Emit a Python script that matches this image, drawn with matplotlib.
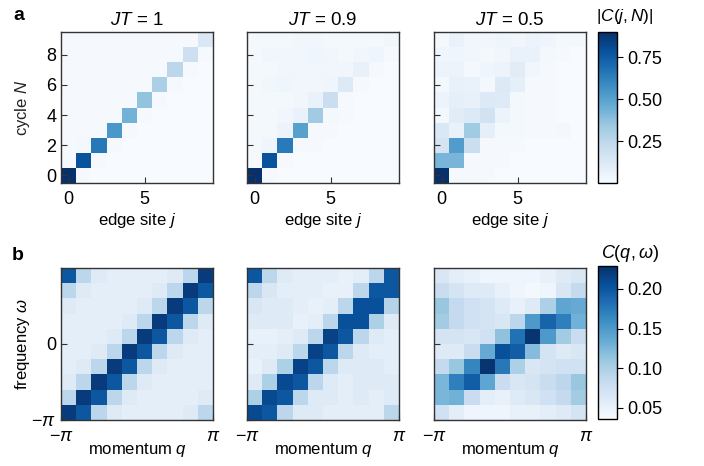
import numpy as np
import matplotlib
matplotlib.use("Agg")
import matplotlib.pyplot as plt

plt.rcParams['font.family'] = ['Liberation Sans', 'DejaVu Sans']
plt.rcParams['mathtext.fontset'] = 'custom'
plt.rcParams['mathtext.rm'] = 'Liberation Sans'
plt.rcParams['mathtext.it'] = 'Liberation Sans:italic'
plt.rcParams['mathtext.bf'] = 'Liberation Sans:bold'

# |C(j,N)| : rows are cycle N = 0..9, columns edge site j = 0..9
edge_jt1 = [
    [0.90, 0.01, 0.00, 0.00, 0.00, 0.00, 0.00, 0.00, 0.00, 0.00],
    [0.01, 0.78, 0.01, 0.00, 0.00, 0.00, 0.00, 0.00, 0.00, 0.00],
    [0.01, 0.02, 0.65, 0.01, 0.00, 0.00, 0.00, 0.00, 0.00, 0.00],
    [0.01, 0.01, 0.01, 0.54, 0.01, 0.00, 0.00, 0.00, 0.00, 0.00],
    [0.01, 0.01, 0.01, 0.01, 0.43, 0.01, 0.00, 0.00, 0.00, 0.00],
    [0.01, 0.01, 0.01, 0.01, 0.01, 0.36, 0.01, 0.00, 0.00, 0.00],
    [0.01, 0.01, 0.01, 0.01, 0.01, 0.01, 0.30, 0.01, 0.00, 0.00],
    [0.01, 0.01, 0.01, 0.01, 0.01, 0.01, 0.01, 0.25, 0.01, 0.00],
    [0.01, 0.01, 0.01, 0.01, 0.01, 0.01, 0.01, 0.01, 0.19, 0.01],
    [0.01, 0.01, 0.01, 0.01, 0.01, 0.01, 0.01, 0.01, 0.01, 0.13],
]
edge_jt09 = [
    [0.90, 0.01, 0.00, 0.00, 0.00, 0.00, 0.00, 0.00, 0.00, 0.00],
    [0.01, 0.78, 0.01, 0.00, 0.00, 0.00, 0.00, 0.00, 0.00, 0.00],
    [0.02, 0.04, 0.64, 0.01, 0.01, 0.00, 0.00, 0.00, 0.00, 0.00],
    [0.02, 0.02, 0.05, 0.50, 0.01, 0.01, 0.00, 0.00, 0.00, 0.00],
    [0.02, 0.02, 0.03, 0.06, 0.33, 0.02, 0.01, 0.00, 0.00, 0.00],
    [0.02, 0.02, 0.02, 0.03, 0.06, 0.20, 0.01, 0.00, 0.00, 0.00],
    [0.02, 0.03, 0.04, 0.03, 0.03, 0.04, 0.12, 0.01, 0.00, 0.00],
    [0.02, 0.02, 0.03, 0.03, 0.03, 0.03, 0.03, 0.07, 0.01, 0.00],
    [0.02, 0.03, 0.03, 0.03, 0.04, 0.03, 0.02, 0.03, 0.04, 0.01],
    [0.02, 0.02, 0.02, 0.03, 0.03, 0.02, 0.02, 0.02, 0.02, 0.03],
]
edge_jt05 = [
    [0.90, 0.01, 0.01, 0.01, 0.00, 0.00, 0.00, 0.00, 0.00, 0.00],
    [0.42, 0.42, 0.01, 0.01, 0.01, 0.00, 0.00, 0.00, 0.00, 0.00],
    [0.16, 0.52, 0.20, 0.01, 0.01, 0.01, 0.00, 0.00, 0.00, 0.00],
    [0.13, 0.06, 0.33, 0.08, 0.02, 0.02, 0.01, 0.01, 0.02, 0.00],
    [0.02, 0.10, 0.12, 0.17, 0.05, 0.02, 0.01, 0.01, 0.00, 0.00],
    [0.05, 0.08, 0.07, 0.12, 0.11, 0.02, 0.01, 0.01, 0.00, 0.00],
    [0.02, 0.07, 0.06, 0.02, 0.12, 0.08, 0.01, 0.01, 0.00, 0.00],
    [0.05, 0.05, 0.02, 0.04, 0.05, 0.10, 0.03, 0.01, 0.00, 0.00],
    [0.04, 0.04, 0.03, 0.02, 0.03, 0.06, 0.06, 0.02, 0.01, 0.00],
    [0.02, 0.06, 0.03, 0.03, 0.04, 0.03, 0.05, 0.04, 0.02, 0.02],
]

# C(q,w) : rows are frequency bins from -pi (first) to pi, columns momentum bins
cqw_jt1 = [
    [0.220, 0.200, 0.090, 0.060, 0.055, 0.055, 0.055, 0.055, 0.060, 0.090],
    [0.090, 0.220, 0.200, 0.090, 0.060, 0.055, 0.055, 0.055, 0.055, 0.060],
    [0.060, 0.090, 0.220, 0.200, 0.090, 0.060, 0.055, 0.055, 0.055, 0.055],
    [0.055, 0.060, 0.090, 0.220, 0.200, 0.090, 0.060, 0.055, 0.055, 0.055],
    [0.055, 0.055, 0.060, 0.090, 0.220, 0.200, 0.090, 0.060, 0.055, 0.055],
    [0.055, 0.055, 0.055, 0.060, 0.090, 0.220, 0.200, 0.090, 0.060, 0.055],
    [0.055, 0.055, 0.055, 0.055, 0.060, 0.090, 0.220, 0.200, 0.090, 0.060],
    [0.060, 0.055, 0.055, 0.055, 0.055, 0.060, 0.090, 0.220, 0.200, 0.090],
    [0.090, 0.060, 0.055, 0.055, 0.055, 0.055, 0.060, 0.090, 0.220, 0.200],
    [0.200, 0.090, 0.060, 0.055, 0.055, 0.055, 0.055, 0.060, 0.090, 0.220],
]
cqw_jt09 = [
    [0.210, 0.200, 0.090, 0.060, 0.060, 0.055, 0.055, 0.055, 0.055, 0.090],
    [0.100, 0.210, 0.200, 0.090, 0.060, 0.060, 0.055, 0.060, 0.055, 0.060],
    [0.060, 0.100, 0.210, 0.200, 0.090, 0.060, 0.055, 0.060, 0.060, 0.060],
    [0.050, 0.060, 0.100, 0.215, 0.200, 0.090, 0.060, 0.060, 0.060, 0.055],
    [0.055, 0.055, 0.060, 0.090, 0.215, 0.200, 0.090, 0.060, 0.055, 0.055],
    [0.050, 0.050, 0.055, 0.060, 0.090, 0.215, 0.200, 0.090, 0.060, 0.055],
    [0.060, 0.060, 0.060, 0.050, 0.055, 0.090, 0.205, 0.205, 0.100, 0.060],
    [0.065, 0.060, 0.060, 0.055, 0.050, 0.055, 0.090, 0.205, 0.205, 0.095],
    [0.090, 0.065, 0.055, 0.055, 0.055, 0.050, 0.050, 0.090, 0.200, 0.200],
    [0.200, 0.090, 0.060, 0.055, 0.055, 0.055, 0.050, 0.055, 0.090, 0.200],
]
cqw_jt05 = [
    [0.075, 0.055, 0.045, 0.045, 0.045, 0.050, 0.050, 0.055, 0.060, 0.070],
    [0.125, 0.130, 0.080, 0.055, 0.050, 0.060, 0.065, 0.075, 0.085, 0.105],
    [0.125, 0.170, 0.195, 0.140, 0.080, 0.065, 0.070, 0.080, 0.090, 0.110],
    [0.085, 0.110, 0.165, 0.225, 0.175, 0.100, 0.065, 0.070, 0.075, 0.075],
    [0.060, 0.060, 0.080, 0.135, 0.205, 0.195, 0.120, 0.070, 0.060, 0.065],
    [0.070, 0.070, 0.065, 0.075, 0.115, 0.180, 0.225, 0.150, 0.105, 0.080],
    [0.105, 0.085, 0.075, 0.070, 0.065, 0.090, 0.150, 0.190, 0.170, 0.130],
    [0.110, 0.085, 0.075, 0.070, 0.060, 0.050, 0.060, 0.100, 0.140, 0.135],
    [0.080, 0.070, 0.060, 0.060, 0.050, 0.045, 0.040, 0.045, 0.065, 0.085],
    [0.065, 0.055, 0.050, 0.045, 0.045, 0.045, 0.045, 0.050, 0.060, 0.065],
]

titles = ['$JT$ = 1', '$JT$ = 0.9', '$JT$ = 0.5']
edge_data = [edge_jt1, edge_jt09, edge_jt05]
cqw_data = [cqw_jt1, cqw_jt09, cqw_jt05]

fs = 13
spine_col = '#333333'
fig = plt.figure(figsize=(7.04, 4.66), dpi=100)
W, H = 704.0, 466.0
lefts = [61, 247, 434]
aw = 152

def style(ax):
    for s in ax.spines.values():
        s.set_color(spine_col)
        s.set_linewidth(1.0)
    ax.tick_params(direction='in', length=4, width=0.8, labelsize=fs,
                   top=False, right=False, color=spine_col)
    ax.tick_params(axis='x', pad=6)

# row a
for i, (dat, t) in enumerate(zip(edge_data, titles)):
    ax = fig.add_axes([lefts[i] / W, 1 - 183 / H, aw / W, 151 / H])
    im = ax.imshow(np.array(dat), cmap='Blues', vmin=0, vmax=0.9, origin='lower',
                   extent=(-0.5, 9.5, -0.5, 9.5), aspect='auto', interpolation='nearest')
    style(ax)
    ax.set_xticks([0, 5])
    ax.set_yticks([0, 2, 4, 6, 8])
    if i > 0:
        ax.set_yticklabels([])
    else:
        ax.set_ylabel('cycle $N$', fontsize=12, color='#222222')
        ax.yaxis.set_label_coords(-0.19, 0.5)
    ax.set_xlabel('edge site $j$', fontsize=12, labelpad=2)
    ax.set_title(t, fontsize=13.5, pad=5)

cax = fig.add_axes([598 / W, 1 - 183 / H, 19 / W, 151 / H])
cb = fig.colorbar(im, cax=cax)
cb.set_ticks([0.25, 0.5, 0.75])
cb.set_ticklabels(['0.25', '0.50', '0.75'])
cb.ax.tick_params(direction='out', length=4, width=0.8, labelsize=fs)
cb.outline.set_linewidth(1.0)
fig.text(625 / W, 1 - 17 / H, '$|C(j,N)|$', ha='center', va='center', fontsize=12.5)

# row b
for i, dat in enumerate(cqw_data):
    ax = fig.add_axes([lefts[i] / W, 1 - 420 / H, aw / W, 152 / H])
    im2 = ax.imshow(np.array(dat), cmap='Blues', vmin=0.036, vmax=0.229, origin='lower',
                    extent=(-np.pi, np.pi, -np.pi, np.pi), aspect='auto',
                    interpolation='nearest')
    style(ax)
    ax.set_xticks([-np.pi, np.pi])
    ax.set_xticklabels([r'$-\pi$', r'$\pi$'])
    ax.set_yticks([-np.pi, 0])
    if i > 0:
        ax.set_yticklabels([])
    else:
        ax.set_yticklabels([r'$-\pi$', '0'])
        ax.set_ylabel(r'frequency $\omega$', fontsize=12)
        ax.yaxis.set_label_coords(-0.19, 0.5)
    ax.set_xlabel('momentum $q$', fontsize=12, labelpad=-3)

cax2 = fig.add_axes([598 / W, 1 - 419 / H, 19 / W, 153 / H])
cb2 = fig.colorbar(im2, cax=cax2)
cb2.set_ticks([0.05, 0.10, 0.15, 0.20])
cb2.set_ticklabels(['0.05', '0.10', '0.15', '0.20'])
cb2.ax.tick_params(direction='out', length=4, width=0.8, labelsize=fs)
cb2.outline.set_linewidth(1.0)
fig.text(630 / W, 1 - 253 / H, r'$C(q,\omega)$', ha='center', va='center', fontsize=13)

fig.text(13 / W, 1 - 15 / H, 'a', fontsize=14, fontweight='bold', va='center')
fig.text(12 / W, 1 - 256 / H, 'b', fontsize=14, fontweight='bold', va='center')

fig.savefig('out.png', dpi=100)
